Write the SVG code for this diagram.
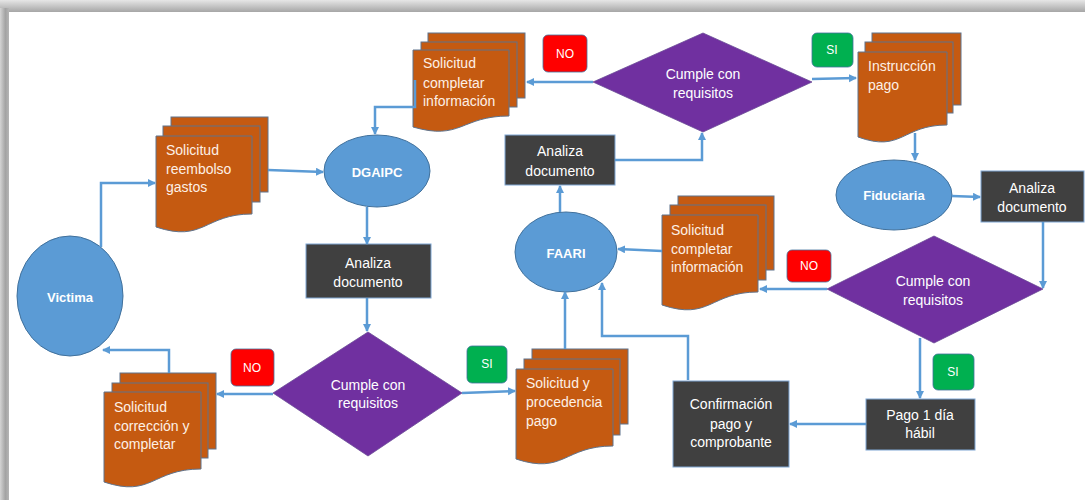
<svg xmlns="http://www.w3.org/2000/svg" width="1085" height="500" viewBox="0 0 1085 500">
<defs>
<linearGradient id="gTop" x1="0" y1="0" x2="0" y2="1">
<stop offset="0" stop-color="#e6e6e6"/><stop offset="1" stop-color="#a6a6a6"/>
</linearGradient>
<linearGradient id="gLeft" x1="0" y1="0" x2="1" y2="0">
<stop offset="0" stop-color="#d4d4d4"/><stop offset="0.6" stop-color="#a3a3a3"/><stop offset="1" stop-color="#b5b5b5"/>
</linearGradient>
<marker id="ah" markerUnits="userSpaceOnUse" markerWidth="10" markerHeight="10" refX="7" refY="4" orient="auto">
<path d="M0,0 L8,4 L0,8 Z" fill="#5b9bd5"/>
</marker>
<style>
.conn{fill:none;stroke:#5b9bd5;stroke-width:2.5;marker-end:url(#ah)}
.doc{fill:#c55a11;stroke:#5f738c;stroke-width:1}
.ell{fill:#5b9bd5;stroke:#41719c;stroke-width:1}
.box{fill:#404040;stroke:#7ea6d3;stroke-width:1}
.dia{fill:#7030a0;stroke:#6a4a96;stroke-width:0.8}
.no{fill:#ff0000;stroke:#41719c;stroke-width:0.8}
.si{fill:#00b050;stroke:#41719c;stroke-width:0.8}
text{font-family:"Liberation Sans",Arial,sans-serif;fill:#ffffff}
.t{font-size:14px}
.c{text-anchor:middle}
.b{font-weight:bold;font-size:13px;text-anchor:middle}
.l{font-size:12px;text-anchor:middle}
.dt{fill:#fdf0e6}
</style>
</defs>
<rect x="0" y="0" width="1085" height="500" fill="#c8c8c8"/>
<rect x="0" y="0" width="1085" height="12" fill="url(#gTop)"/>
<rect x="0" y="8" width="9" height="492" fill="url(#gLeft)"/>
<rect x="9" y="12" width="1076" height="488" fill="#ffffff"/>

<g id="victima"><ellipse class="ell" cx="70" cy="296" rx="53" ry="60"/><text class="b" x="70" y="302">Victima</text></g>

<g id="doc-reembolso">
<rect class="doc" x="171" y="117" width="97" height="75"/>
<rect class="doc" x="163" y="126" width="97" height="76"/>
<path class="doc" d="M156,136 H252 V214 C204,214 204,243 156,227 Z"/>
<text class="t dt" x="166" y="155">Solicitud</text><text class="t dt" x="166" y="174">reembolso</text><text class="t dt" x="166" y="192">gastos</text>
</g>

<g id="dgaipc"><ellipse class="ell" cx="377" cy="171" rx="53" ry="36"/><text class="b" x="377" y="177">DGAIPC</text></g>

<g id="analiza1"><rect class="box" x="306" y="244" width="125" height="54"/><text class="t c" x="368" y="268">Analiza</text><text class="t c" x="368" y="287">documento</text></g>

<g id="cumple1"><path class="dia" d="M368,332 L462,393 L368,456 L273,393 Z"/><text class="t c" x="368" y="390">Cumple con</text><text class="t c" x="368" y="408">requisitos</text></g>

<g id="no1"><rect class="no" x="231" y="349" width="43" height="37" rx="5"/><text class="l" x="252" y="372">NO</text></g>

<g id="doc-correccion">
<rect class="doc" x="120" y="373" width="96" height="76"/>
<rect class="doc" x="112" y="383" width="96" height="75"/>
<path class="doc" d="M104,392 H201 V469 C152,469 152,498 104,482 Z"/>
<text class="t dt" x="114" y="412">Solicitud</text><text class="t dt" x="114" y="431">corrección y</text><text class="t dt" x="114" y="449">completar</text>
</g>

<g id="si1"><rect class="si" x="467" y="346" width="40" height="37" rx="5"/><text class="l" x="487" y="368">SI</text></g>

<g id="doc-procedencia">
<rect class="doc" x="532" y="349" width="96" height="75"/>
<rect class="doc" x="524" y="359" width="96" height="76"/>
<path class="doc" d="M516,369 H613 V446 C564,446 564,475 516,459 Z"/>
<text class="t dt" x="526" y="388">Solicitud y</text><text class="t dt" x="526" y="407">procedencia</text><text class="t dt" x="526" y="426">pago</text>
</g>

<g id="faari"><ellipse class="ell" cx="566" cy="252" rx="51" ry="40"/><text class="b" x="566" y="258">FAARI</text></g>

<g id="analiza2"><rect class="box" x="505" y="135" width="110" height="50"/><text class="t c" x="560" y="156">Analiza</text><text class="t c" x="560" y="176">documento</text></g>

<g id="cumple2"><path class="dia" d="M703,33 L812,82 L703,132 L593,82 Z"/><text class="t c" x="703" y="79">Cumple con</text><text class="t c" x="703" y="98">requisitos</text></g>

<g id="no2"><rect class="no" x="543" y="35" width="44" height="37" rx="5"/><text class="l" x="565" y="58">NO</text></g>

<g id="doc-completar1">
<rect class="doc" x="428" y="33" width="97" height="65"/>
<rect class="doc" x="421" y="42" width="96" height="65"/>
<path class="doc" d="M413,50 H509 V116 C461,116 461,141 413,127 Z"/>
<text class="t dt" x="423" y="68">Solicitud</text><text class="t dt" x="423" y="88">completar</text><text class="t dt" x="423" y="106">información</text>
</g>

<g id="si2"><rect class="si" x="812" y="33" width="41" height="34" rx="5"/><text class="l" x="832" y="54">SI</text></g>

<g id="doc-instruccion">
<rect class="doc" x="872" y="33" width="89" height="72"/>
<rect class="doc" x="865" y="42" width="88" height="71"/>
<path class="doc" d="M858,52 H947 V125 C902,125 902,153 858,137 Z"/>
<text class="t dt" x="868" y="71">Instrucción</text><text class="t dt" x="868" y="90">pago</text>
</g>

<g id="fiduciaria"><ellipse class="ell" cx="894" cy="195" rx="58" ry="35"/><text class="b" x="894" y="200">Fiduciaria</text></g>

<g id="analiza3"><rect class="box" x="981" y="171" width="103" height="51"/><text class="t c" x="1032" y="193">Analiza</text><text class="t c" x="1032" y="212">documento</text></g>

<g id="cumple3"><path class="dia" d="M934,236 L1043,289 L934,343 L827,289 Z"/><text class="t c" x="933" y="286">Cumple con</text><text class="t c" x="933" y="305">requisitos</text></g>

<g id="no3"><rect class="no" x="787" y="250" width="44" height="32" rx="5"/><text class="l" x="809" y="270">NO</text></g>

<g id="doc-completar2">
<rect class="doc" x="678" y="196" width="96" height="74"/>
<rect class="doc" x="670" y="205" width="96" height="75"/>
<path class="doc" d="M662,215 H758 V292 C710,292 710,321 662,305 Z"/>
<text class="t dt" x="671" y="235">Solicitud</text><text class="t dt" x="671" y="254">completar</text><text class="t dt" x="671" y="272">información</text>
</g>

<g id="si3"><rect class="si" x="933" y="354" width="41" height="36" rx="5"/><text class="l" x="953" y="376">SI</text></g>

<g id="pago"><rect class="box" x="866" y="399" width="109" height="51"/><text class="t c" x="920" y="420">Pago 1 día</text><text class="t c" x="920" y="438">hábil</text></g>

<g id="confirmacion"><rect class="box" x="673" y="381" width="116" height="86"/><text class="t c" x="731" y="409">Confirmación</text><text class="t c" x="731" y="429">pago y</text><text class="t c" x="731" y="447">comprobante</text></g>

<g id="connectors">
<path class="conn" d="M101,247 V183 H155"/>
<path class="conn" d="M268,170 L323,172"/>
<path class="conn" d="M367,207 V244"/>
<path class="conn" d="M367,298 V331"/>
<path class="conn" d="M273,394 H217"/>
<path class="conn" d="M169,373 V350 H103"/>
<path class="conn" d="M462,393 L515,391"/>
<path class="conn" d="M565,349 V292"/>
<path class="conn" d="M560,212 V186"/>
<path class="conn" d="M615,160 H702 V133"/>
<path class="conn" d="M593,82 H527"/>
<path class="conn" d="M415,80 V107 H375 V134"/>
<path class="conn" d="M812,79 L856,78"/>
<path class="conn" d="M915,133 V160"/>
<path class="conn" d="M952,196 L980,197"/>
<path class="conn" d="M1043,222 V288"/>
<path class="conn" d="M827,289 H760"/>
<path class="conn" d="M662,251 L618,249"/>
<path class="conn" d="M920,338 V398"/>
<path class="conn" d="M866,424 H790"/>
<path class="conn" d="M688,380 V336 H602 V283"/>
</g>
</svg>
